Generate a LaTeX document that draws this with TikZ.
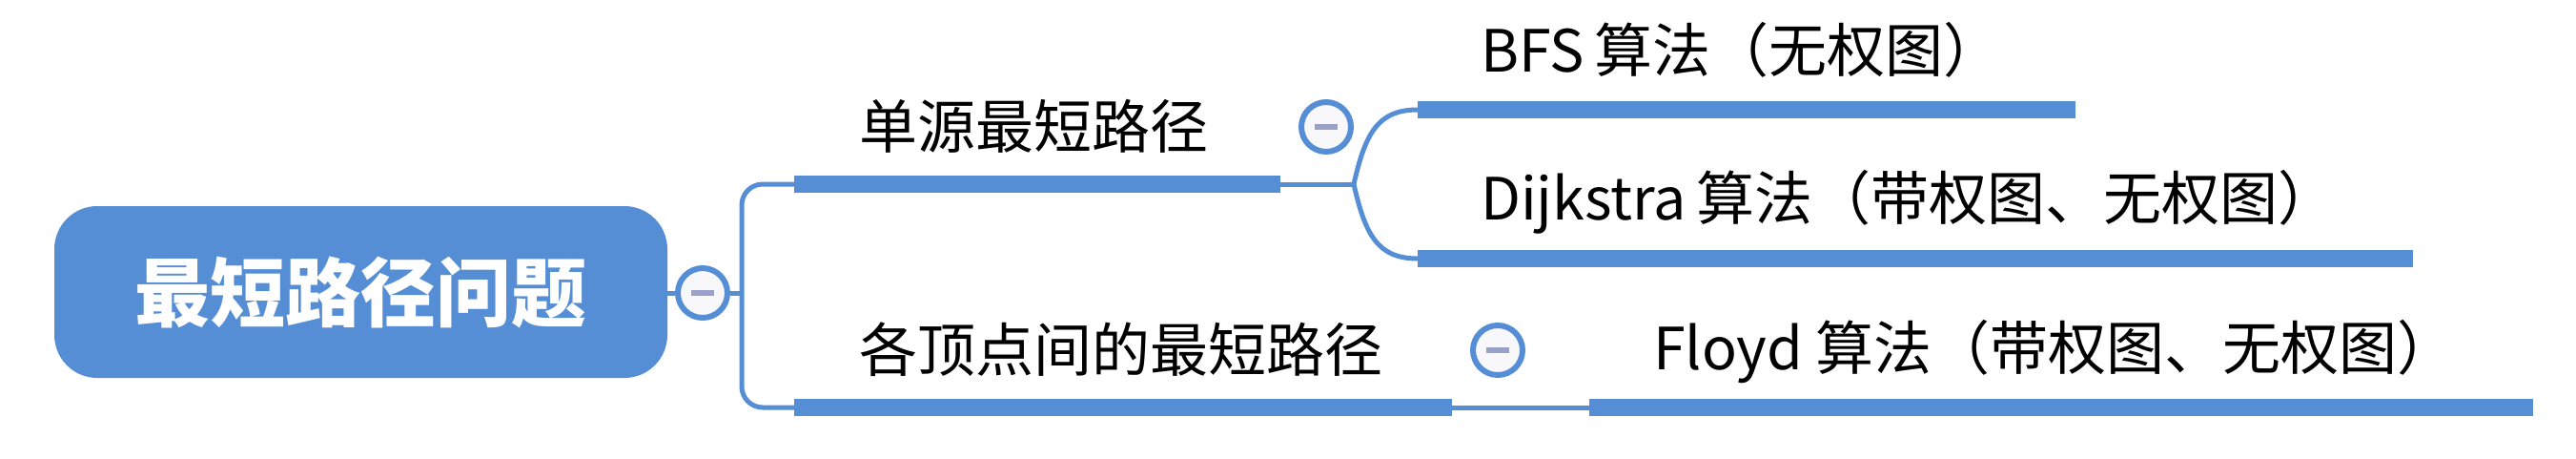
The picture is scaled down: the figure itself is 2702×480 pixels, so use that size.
\documentclass[tikz,border=0pt]{standalone}
\usepackage{fontspec}
\newfontfamily\cjk{Noto Sans CJK SC}
\definecolor{mmblue}{RGB}{86,142,213}
\definecolor{btnfill}{RGB}{248,248,250}
\definecolor{minuscol}{RGB}{154,161,201}
\begin{document}
\begin{tikzpicture}[x=1pt,y=-1pt,
  rootbox/.style={rectangle, rounded corners=45pt, fill=mmblue, minimum width=643pt,
    minimum height=180pt, inner sep=0pt, text=white,
    font=\cjk\bfseries\fontsize{79}{90}\selectfont},
  bar/.style={rectangle, fill=mmblue, inner sep=0pt, outer sep=0pt, minimum height=18pt},
  link/.style={draw=mmblue, line width=5pt},
  btn/.style={circle, draw=mmblue, line width=6pt, fill=btnfill, minimum size=52pt, inner sep=0pt},
  minusbar/.style={draw=minuscol, line width=5.5pt},
  lbl/.style={anchor=base west, inner sep=0pt, font=\cjk\fontsize{61}{72}\selectfont}]
\useasboundingbox (0,0) rectangle (2702,480);
% root
\node[rootbox] (root) at (378.5,306) {最短路径问题};
% collapse buttons
\node[btn] (c0) at (737,307) {};
\node[btn] (c1) at (1391,133) {};
\node[btn] (c2) at (1571,367) {};
\foreach \c in {c0,c1,c2}{
  \draw[minusbar] ([xshift=-12pt]\c.center) -- ([xshift=12pt]\c.center);
}
% bars
\node[bar, minimum width=510pt] (bar1) at (1088,193) {};
\node[bar, minimum width=690pt] (bar2) at (1178,427) {};
\node[bar, minimum width=690pt] (bar3) at (1832,115) {};
\node[bar, minimum width=1044pt] (bar4) at (2009,271) {};
\node[bar, minimum width=990pt] (bar5) at (2162,427) {};
% labels
\node[lbl] (t1) at (901,155) {单源最短路径};
\node[lbl] (t2) at (901,389) {各顶点间的最短路径};
\node[lbl] (t3) at (1553,75) {BFS\,算法（无权图）};
\node[lbl] (t4) at (1553,230) {Dijkstra\,算法（带权图、无权图）};
\node[lbl] (t5) at (1734,387) {Floyd 算法（带权图、无权图）};
% connectors
\coordinate (t) at (778,307);
\coordinate (j1) at (1420,193);
\draw[link] (root.east |- c0.center) -- (c0.west);
\draw[link] (c0.east) -- (t);
\draw[link, rounded corners=22pt] (bar1.west) -- (bar1.west -| t) -- (bar2.west -| t) -- (bar2.west);
\draw[link] (bar1.east) -- (j1);
\draw[link] (j1) .. controls +(12,-53) and +(-42,0) .. (bar3.west);
\draw[link] (j1) .. controls +(12,53) and +(-42,0) .. (bar4.west);
\draw[link] (bar2.east) -- (bar5.west);
\end{tikzpicture}
\end{document}
